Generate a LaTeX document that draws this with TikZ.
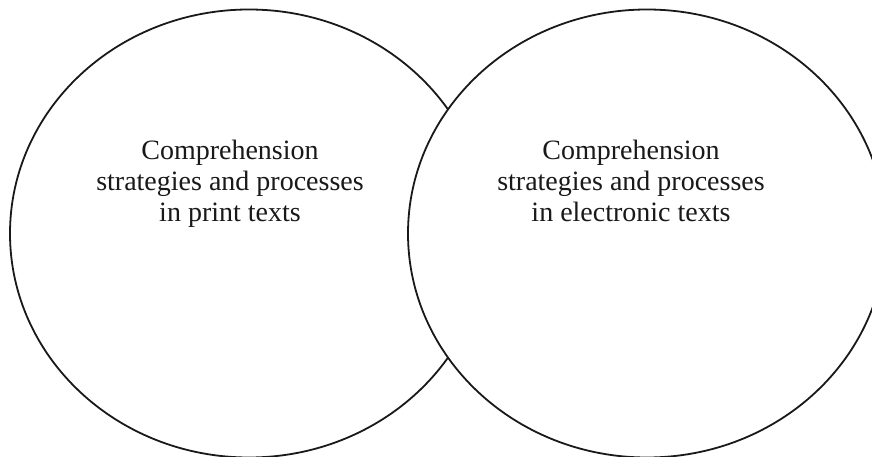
\documentclass[tikz,border=0pt]{standalone}
\usepackage{fontspec}
\setmainfont{Liberation Serif}
\begin{document}
\begin{tikzpicture}[x=1pt,y=-1pt,
  ring/.style={line width=1.8pt, draw=black!90},
  label/.style={anchor=base, inner sep=0pt, font=\fontsize{28}{31}\selectfont, text=black!90}]
\useasboundingbox (0,0) rectangle (872,457);
\clip (0,0) rectangle (872,457);
\fill[white] (0,0) rectangle (872,457);
\draw[ring] (249,233.5) ellipse [x radius=239, y radius=224];
\draw[ring, fill=white] (647,233.5) ellipse [x radius=239, y radius=224];
\node[label] (l1) at (230,159.5) {Comprehension};
\node[label] (l2) at (230,190.5) {strategies and processes};
\node[label] (l3) at (230,221.5) {in print texts};
\node[label] (r1) at (631,159.5) {Comprehension};
\node[label] (r2) at (631,190.5) {strategies and processes};
\node[label] (r3) at (631,221.5) {in electronic texts};
\end{tikzpicture}
\end{document}
